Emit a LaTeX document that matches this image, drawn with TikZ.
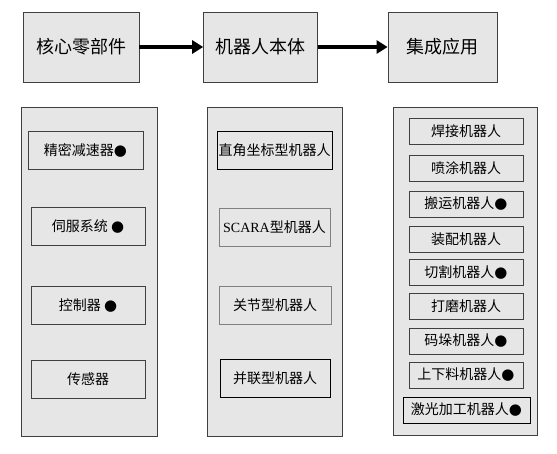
\documentclass[tikz,border=0pt]{standalone}
\usepackage{fontspec}
\setmainfont{Liberation Serif}
\newfontfamily\cjk{Noto Sans CJK SC}
\newfontfamily\symfont{DejaVu Sans}
\usetikzlibrary{arrows.meta, positioning}
\definecolor{pnl}{RGB}{230,230,230}
\definecolor{edg}{RGB}{64,64,64}
\newcommand{\dotmark}{{\symfont\fontsize{15}{15}\selectfont ●}}
\tikzset{
  % oberste Reihe: Stufen der Kette
  stage/.style={rectangle, draw=edg, fill=pnl, minimum width=116pt, minimum height=70pt,
                font=\cjk\fontsize{18}{20}\selectfont, inner sep=0pt},
  % grosse Spalte
  panel/.style={rectangle, draw=edg, fill=pnl, minimum height=329pt, inner sep=0pt},
  % Eintrag in der Spalte
  item/.style={rectangle, draw=edg, fill=pnl, minimum width=114pt, minimum height=38pt,
               font=\cjk\fontsize{14}{16}\selectfont, inner sep=0pt},
  small/.style={item, minimum height=26pt},
  flow/.style={-{Triangle[length=11pt, width=13pt]}, line width=3.6pt, draw=black}
}
\begin{document}
\begin{tikzpicture}[x=1pt, y=-1pt]
  \useasboundingbox (0,0) rectangle (557,453);
  % Kette oben
  \node[stage] (core) at (81,47) {核心零部件};
  \node[stage, minimum width=114pt, right=64pt of core] (body) {机器人本体};
  \node[stage, minimum width=109pt, right=70pt of body] (app) {集成应用};
  \draw[flow] (core) -- (body);
  \draw[flow] (body) -- (app);

  % Spalten
  \node[panel, minimum width=136pt] (pcore) at (89,271.5) {};
  \node[panel, minimum width=135pt] (pbody) at (274.5,271.5) {};
  \node[panel, minimum width=144pt, minimum height=328pt] (papp) at (465,271) {};

  % Kernkomponenten
  \node[item, minimum width=115pt] (reducer) at (85.5,150) {精密减速器\dotmark};
  \node[item] (servo) at (88,226.5) {伺服系统 \dotmark};
  \node[item] (ctrl) at (88,305.5) {控制器 \dotmark};
  \node[item] (sensor) at (88,379.5) {传感器};

  % Roboterkoerper
  \node[item, minimum width=115pt, draw=black] (cart) at (274.5,150) {直角坐标型机器人};
  \node[item, minimum width=111pt, draw=gray] (scara) at (274.5,227) {{\rmfamily SCARA}型机器人};
  \node[item, minimum width=112pt, draw=gray] (joint) at (275,305.5) {关节型机器人};
  \node[item, minimum width=110pt, draw=black] (para) at (275,378) {并联型机器人};

  % Anwendungen
  \node[small] (weld) at (466,131) {焊接机器人};
  \node[small] (spray) at (466,168) {喷涂机器人};
  \node[small] (carry) at (466,204) {搬运机器人\dotmark};
  \node[small] (assem) at (466,239) {装配机器人};
  \node[small] (cut) at (466,272.5) {切割机器人\dotmark};
  \node[small] (grind) at (466,306.5) {打磨机器人};
  \node[small] (stack) at (466,341) {码垛机器人\dotmark};
  \node[small] (load) at (466,375) {上下料机器人\dotmark};
  \node[small, minimum width=127pt, draw=black] (laser) at (466.5,410) {激光加工机器人\dotmark};
\end{tikzpicture}
\end{document}
